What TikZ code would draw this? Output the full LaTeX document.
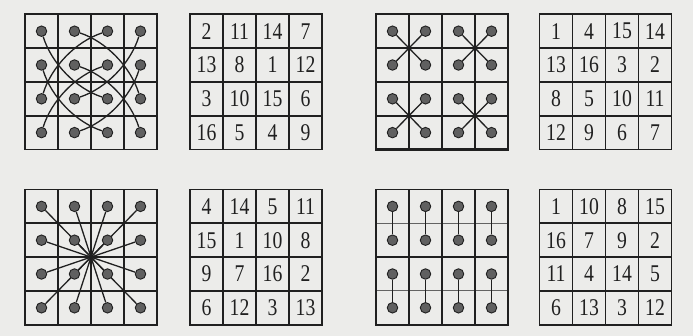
\documentclass[tikz,border=0pt]{standalone}
\usepackage{graphicx}
\usepackage{fontspec}
\newfontfamily\digitfont{Liberation Serif}
\definecolor{paper}{RGB}{236,236,234}
\definecolor{ink}{RGB}{32,32,32}
\definecolor{dotgray}{RGB}{96,96,96}
\pgfdeclarelayer{back}
\pgfsetlayers{back,main}
\tikzset{
  gridline/.style={draw=ink, line width=1.8pt, line cap=rect},
  boldline/.style={draw=ink, line width=2.1pt, line cap=rect},
  faintline/.style={draw=ink!70, line width=0.9pt},
  dotnode/.style={circle, fill=dotgray, draw=ink, line width=0.9pt, inner sep=0pt, minimum size=10.5pt},
  link/.style={draw=ink, line width=1.3pt},
  numnode/.style={inner sep=0pt, text=ink, font=\digitfont\fontsize{24}{24}\selectfont},
  cellunits/.style={x=33pt, y=-33.8pt},
}
\newcommand{\numtxt}[1]{\scalebox{0.82}[1]{#1}}
\begin{document}
\begin{tikzpicture}
\useasboundingbox (0,0) rectangle (693pt,-336pt);
\begin{pgfonlayer}{back}
\fill[paper] (0,0) rectangle (693pt,-336pt);
\end{pgfonlayer}

% ---------- grid 1: curved pairs ----------
\begin{scope}[shift={(25pt,-14.3pt)}, cellunits]
  \draw[gridline] (0,0) rectangle (4,4);
  \foreach \i in {1,2,3} {\draw[gridline] (\i,0) -- (\i,4); \draw[gridline] (0,\i) -- (4,\i);}
  \foreach \r in {1,...,4} \foreach \c in {1,...,4}
    \node[dotnode] (a-\r-\c) at (\c-0.5,\r-0.5) {};
  \begin{pgfonlayer}{back}
    \draw[link] (a-1-1) .. controls (0.80,1.45) and (1.55,2.20) .. (a-3-3);
    \draw[link] (a-1-2) .. controls (2.45,0.80) and (3.20,1.55) .. (a-3-4);
    \draw[link] (a-1-3) .. controls (1.55,0.80) and (0.80,1.55) .. (a-3-1);
    \draw[link] (a-1-4) .. controls (3.20,1.45) and (2.45,2.20) .. (a-3-2);
    \draw[link] (a-2-1) .. controls (0.80,2.45) and (1.55,3.20) .. (a-4-3);
    \draw[link] (a-2-2) .. controls (2.45,1.80) and (3.20,2.55) .. (a-4-4);
    \draw[link] (a-2-3) .. controls (1.55,1.80) and (0.80,2.55) .. (a-4-1);
    \draw[link] (a-2-4) .. controls (3.20,2.45) and (2.45,3.20) .. (a-4-2);
  \end{pgfonlayer}
\end{scope}

% ---------- grid 2: numbers ----------
\begin{scope}[shift={(190pt,-14.3pt)}, cellunits]
  \draw[gridline] (0,0) rectangle (4,4);
  \foreach \i in {1,2,3} {\draw[gridline] (\i,0) -- (\i,4); \draw[gridline] (0,\i) -- (4,\i);}
  \foreach \v [count=\k from 0] in {2,11,14,7,13,8,1,12,3,10,15,6,16,5,4,9} {
    \pgfmathtruncatemacro{\r}{int(\k/4)+1}
    \pgfmathtruncatemacro{\c}{mod(\k,4)+1}
    \node[numnode] (b-\r-\c) at (\c-0.5,\r-0.5) {\numtxt{\v}};
  }
\end{scope}

% ---------- grid 3: crosses ----------
\begin{scope}[shift={(376pt,-14.3pt)}, cellunits]
  \foreach \i in {1,3} {\draw[gridline] (\i,0) -- (\i,4); \draw[gridline] (0,\i) -- (4,\i);}
  \draw[boldline] (2,0) -- (2,4);
  \draw[boldline] (0,2) -- (4,2);
  \draw[boldline] (0,0) rectangle (4,4);
  \foreach \r in {1,...,4} \foreach \c in {1,...,4}
    \node[dotnode] (x-\r-\c) at (\c-0.5,\r-0.5) {};
  \begin{pgfonlayer}{back}
    \foreach \r in {1,3} \foreach \c in {1,3} {
      \pgfmathtruncatemacro{\rr}{\r+1}
      \pgfmathtruncatemacro{\cc}{\c+1}
      \draw[link] (x-\r-\c) -- (x-\rr-\cc);
      \draw[link] (x-\r-\cc) -- (x-\rr-\c);
    }
  \end{pgfonlayer}
\end{scope}

% ---------- grid 4: numbers ----------
\begin{scope}[shift={(539.5pt,-14.3pt)}, cellunits]
  \draw[gridline] (0,0) rectangle (4,4);
  \foreach \i in {1,2,3} {\draw[gridline] (\i,0) -- (\i,4); \draw[gridline] (0,\i) -- (4,\i);}
  \foreach \v [count=\k from 0] in {1,4,15,14,13,16,3,2,8,5,10,11,12,9,6,7} {
    \pgfmathtruncatemacro{\r}{int(\k/4)+1}
    \pgfmathtruncatemacro{\c}{mod(\k,4)+1}
    \node[numnode] (d-\r-\c) at (\c-0.5,\r-0.5) {\numtxt{\v}};
  }
\end{scope}

% ---------- grid 5: star through centre ----------
\begin{scope}[shift={(25pt,-189.5pt)}, cellunits]
  \draw[gridline] (0,0) rectangle (4,4);
  \foreach \i in {1,2,3} {\draw[gridline] (\i,0) -- (\i,4); \draw[gridline] (0,\i) -- (4,\i);}
  \foreach \r in {1,...,4} \foreach \c in {1,...,4}
    \node[dotnode] (s-\r-\c) at (\c-0.5,\r-0.5) {};
  \begin{pgfonlayer}{back}
    \draw[link] (s-1-1) -- (s-4-4);
    \draw[link] (s-1-2) -- (s-4-3);
    \draw[link] (s-1-3) -- (s-4-2);
    \draw[link] (s-1-4) -- (s-4-1);
    \draw[link] (s-2-1) -- (s-3-4);
    \draw[link] (s-2-2) -- (s-3-3);
    \draw[link] (s-2-3) -- (s-3-2);
    \draw[link] (s-2-4) -- (s-3-1);
  \end{pgfonlayer}
\end{scope}

% ---------- grid 6: numbers ----------
\begin{scope}[shift={(190pt,-189.5pt)}, cellunits]
  \draw[gridline] (0,0) rectangle (4,4);
  \foreach \i in {1,2,3} {\draw[gridline] (\i,0) -- (\i,4); \draw[gridline] (0,\i) -- (4,\i);}
  \foreach \v [count=\k from 0] in {4,14,5,11,15,1,10,8,9,7,16,2,6,12,3,13} {
    \pgfmathtruncatemacro{\r}{int(\k/4)+1}
    \pgfmathtruncatemacro{\c}{mod(\k,4)+1}
    \node[numnode] (f-\r-\c) at (\c-0.5,\r-0.5) {\numtxt{\v}};
  }
\end{scope}

% ---------- grid 7: vertical pairs ----------
\begin{scope}[shift={(376pt,-189.5pt)}, cellunits]
  \foreach \i in {1,3} {\draw[faintline] (0,\i) -- (4,\i);}
  \foreach \i in {1,2,3} {\draw[gridline] (\i,0) -- (\i,4);}
  \draw[gridline] (0,2) -- (4,2);
  \draw[gridline] (0,0) rectangle (4,4);
  \foreach \r in {1,...,4} \foreach \c in {1,...,4}
    \node[dotnode] (v-\r-\c) at (\c-0.5,\r-0.5) {};
  \foreach \c in {1,...,4} {
    \draw[link] (v-1-\c) -- (v-2-\c);
    \draw[link] (v-3-\c) -- (v-4-\c);
  }
\end{scope}

% ---------- grid 8: numbers ----------
\begin{scope}[shift={(539.5pt,-189.5pt)}, cellunits]
  \draw[gridline] (0,0) rectangle (4,4);
  \foreach \i in {1,2,3} {\draw[gridline] (\i,0) -- (\i,4); \draw[gridline] (0,\i) -- (4,\i);}
  \foreach \v [count=\k from 0] in {1,10,8,15,16,7,9,2,11,4,14,5,6,13,3,12} {
    \pgfmathtruncatemacro{\r}{int(\k/4)+1}
    \pgfmathtruncatemacro{\c}{mod(\k,4)+1}
    \node[numnode] (h-\r-\c) at (\c-0.5,\r-0.5) {\numtxt{\v}};
  }
\end{scope}
\end{tikzpicture}
\end{document}
